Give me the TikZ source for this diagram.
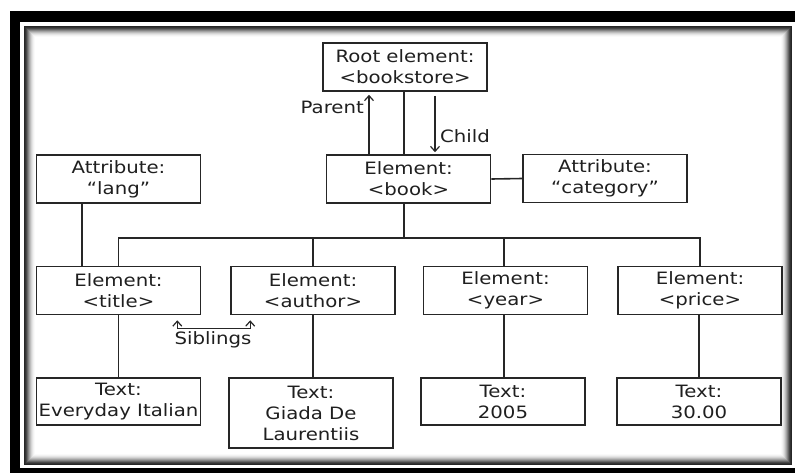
\documentclass[tikz,border=0pt]{standalone}
\usepackage{fontspec}
\setmainfont{DejaVu Sans}[FakeStretch=1.16]
\usetikzlibrary{arrows.meta}

\begin{document}
\begin{tikzpicture}[x=1pt, y=-1pt,
  box/.style={draw=black!85, line width=1.6pt, fill=white, minimum width=164pt,
    minimum height=48pt, inner sep=0pt, align=center,
    font=\fontsize{17}{21}\selectfont, text=black!88},
  link/.style={draw=black!85, line width=1.6pt},
  lbl/.style={inner sep=0pt, font=\fontsize{17}{21}\selectfont, text=black!88},
  barb/.tip={Straight Barb[length=5pt,width=9pt,line width=1.2pt]}
]
\useasboundingbox (0,0) rectangle (795,472);

% outer black frame with white gap and inner shadow
\fill[black] (10,11) rectangle (812,484);
\fill[white] (20,22) rectangle (796,468);
\fill[white] (24,26) rectangle (792,465);
\foreach \i/\g in {0/85,1/80,2/72,3/60,4/48,5/36,6/26,7/17,8/10,9/5,10/2}{
  \draw[black!\g, line width=1.05pt] (24.5+\i,26.5+\i) rectangle (791.5-\i,464.5-\i);
}

% nodes
\node[box] (root)   at (405,67)    {Root element:\\<bookstore>};
\node[box] (book)   at (408.5,179) {Element:\\<book>};
\node[box] (lang)   at (118.5,179) {Attribute:\\“lang”};
\node[box] (cat)    at (605,178.5) {Attribute:\\“category”};
\node[box] (title)  at (118.5,290.5) {Element:\\<title>};
\node[box] (author) at (313,290.5)   {Element:\\<author>};
\node[box] (year)   at (505.5,290.5) {Element:\\<year>};
\node[box] (price)  at (700,290.5)   {Element:\\<price>};
\node[box, minimum height=47pt] (t1) at (118.5,401.5) {Text:\\Everyday Italian};
\node[box, minimum height=70pt] (t2) at (311,413)     {Text:\\Giada De\\Laurentiis};
\node[box, minimum height=47pt] (t3) at (503,401.5)   {Text:\\2005};
\node[box, minimum height=47pt] (t4) at (699,401.5)   {Text:\\30.00};

% helper coordinates
\coordinate (bus) at (0,238);
\coordinate (pa)  at (369,0);
\coordinate (ch)  at (435,0);
\coordinate (mid) at (404,0);
\coordinate (yx)  at (504,0);
\coordinate (px)  at (699,0);

% root -> book and book -> bus
\draw[link] (root.south -| mid) -- (book.north -| mid);
\draw[link] (book.south -| mid) -- (bus -| mid);

% parent / child arrows
\draw[link, -barb, shorten >=3pt] (book.north -| pa) -- (root.south -| pa);
\draw[link, -barb, shorten <=4pt, shorten >=2pt] (root.south -| ch) -- (book.north -| ch);
\node[lbl, anchor=east] (plbl) at (364,107) {Parent};
\node[lbl, anchor=west] (clbl) at (440,136) {Child};

% attribute links
\draw[link] (book.east) -- (cat.west);
\draw[link] ([xshift=46pt]lang.south west) -- ([xshift=46pt]title.north west);

% bus to child elements
\draw[link] (title.north) -- (title.north |- bus) -- (price.north |- bus) -- (price.north);
\draw[link] (author.north) -- (author.north |- bus);
\draw[link] (year.north -| yx) -- (bus -| yx);

% element -> text
\draw[link] (title.south) -- (t1.north -| title.south);
\draw[link] (author.south) -- (t2.north -| author.south);
\draw[link] (year.south -| yx) -- (t3.north -| yx);
\draw[link] (price.south -| px) -- (t4.north -| px);

% siblings
\coordinate (sl) at ([xshift=-24pt,yshift=-5pt]title.south east);
\coordinate (sr) at ([xshift=20pt,yshift=-5pt]author.south west);
\draw[link, line width=1.4pt, barb-barb] (sl) -- ++(0,8) -| (sr);
\node[lbl] (slbl) at (213,340) {Siblings};

\end{tikzpicture}
\end{document}
